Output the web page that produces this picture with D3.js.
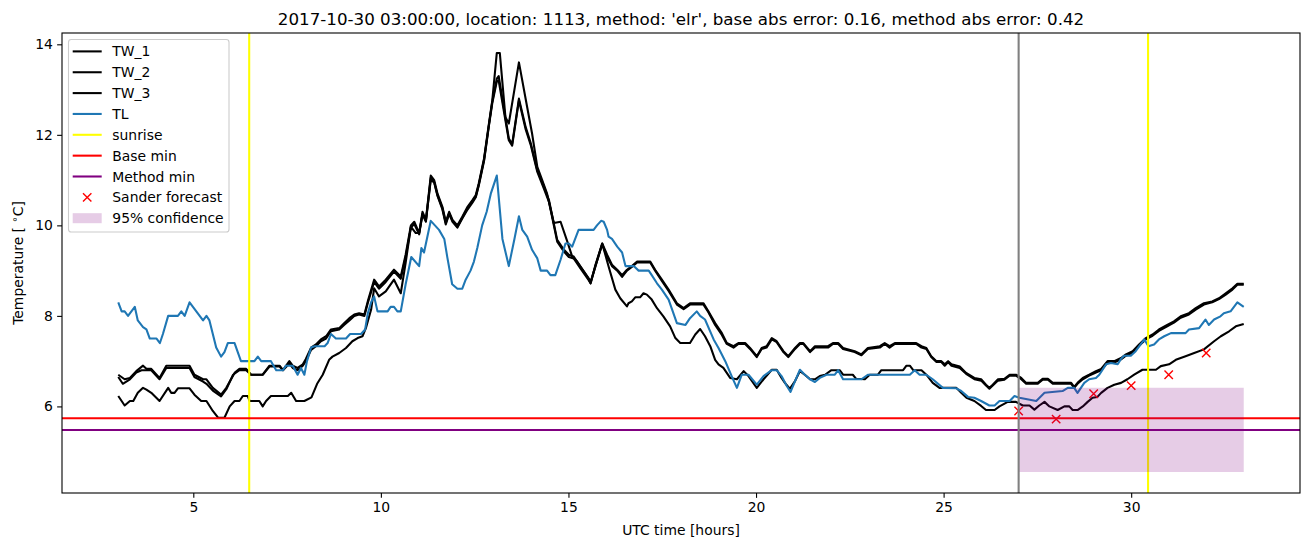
<!DOCTYPE html>
<html><head><meta charset="utf-8">
<script src="https://cdn.jsdelivr.net/npm/d3@7"></script>
<style>
body{margin:0;background:#fff;}
text{font-family:"DejaVu Sans",sans-serif;}
</style></head>
<body><svg id="c" width="1310" height="547"></svg>
<script>
const TITLE = "2017-10-30 03:00:00, location: 1113, method: 'elr', base abs error: 0.16, method abs error: 0.42";
const xTicks = [5,10,15,20,25,30];
const yTicks = [6,8,10,12,14];

const TW_1 = [[3.0,6.7],[3.17,6.6],[3.31,6.63],[3.48,6.78],[3.66,6.9],[3.75,6.83],[3.88,6.83],[4.1,6.63],[4.28,6.9],[4.9,6.9],[5.03,6.7],[5.26,6.6],[5.35,6.6],[5.52,6.41],[5.74,6.26],[5.88,6.41],[6.1,6.74],[6.23,6.83],[6.41,6.83],[6.54,6.7],[6.85,6.7],[7.03,6.9],[7.3,6.9],[7.39,6.8],[7.56,7.0],[7.65,6.9],[7.78,6.85],[7.92,6.93],[8.0,7.05],[8.14,7.3],[8.27,7.37],[8.4,7.48],[8.54,7.55],[8.67,7.7],[8.89,7.73],[9.02,7.84],[9.16,7.95],[9.29,8.03],[9.42,8.06],[9.56,8.03],[9.65,8.32],[9.82,8.8],[9.95,8.65],[10.13,8.8],[10.35,9.02],[10.53,8.87],[10.66,9.35],[10.8,10.0],[10.89,10.08],[11.02,9.83],[11.11,10.3],[11.2,10.12],[11.33,11.1],[11.42,11.0],[11.51,10.7],[11.64,10.41],[11.73,10.08],[11.82,10.3],[11.91,10.12],[12.04,10.0],[12.17,10.19],[12.31,10.41],[12.44,10.56],[12.53,10.67],[12.61,10.93],[12.75,11.48],[12.88,12.25],[12.97,12.76],[13.09,13.81],[13.17,13.81],[13.32,12.39],[13.41,12.25],[13.68,13.6],[13.9,12.61],[14.03,12.03],[14.17,11.29],[14.3,11.0],[14.43,10.7],[14.61,10.05],[14.79,10.08],[14.97,9.64],[15.1,9.31],[15.23,9.2],[15.5,8.87],[15.59,8.72],[15.72,9.13],[15.9,9.6],[16.03,9.35],[16.16,9.13],[16.3,9.02],[16.43,8.9],[16.56,9.02],[16.69,9.1],[16.83,9.2],[17.18,9.2],[17.31,9.02],[17.49,8.8],[17.67,8.58],[17.89,8.28],[18.07,8.17],[18.24,8.28],[18.6,8.28],[18.73,8.1],[18.91,7.84],[19.09,7.62],[19.22,7.4],[19.4,7.33],[19.53,7.4],[19.71,7.4],[19.84,7.29],[20.02,7.11],[20.15,7.29],[20.28,7.33],[20.42,7.51],[20.55,7.44],[20.73,7.22],[20.86,7.11],[21.04,7.29],[21.17,7.4],[21.26,7.4],[21.44,7.22],[21.57,7.33],[21.92,7.33],[22.05,7.4],[22.19,7.4],[22.32,7.29],[22.63,7.22],[22.81,7.15],[22.98,7.29],[23.3,7.33],[23.43,7.4],[23.56,7.33],[23.7,7.4],[24.27,7.4],[24.41,7.33],[24.54,7.29],[24.67,7.11],[24.81,7.0],[24.94,7.0],[25.03,6.93],[25.12,7.0],[25.21,6.93],[25.43,6.88],[25.6,6.74],[25.82,6.63],[26.0,6.6],[26.13,6.48],[26.22,6.41],[26.31,6.48],[26.45,6.6],[26.62,6.61],[26.76,6.7],[26.93,6.7],[27.07,6.63],[27.2,6.52],[27.51,6.52],[27.64,6.61],[27.78,6.61],[27.91,6.52],[28.4,6.52],[28.48,6.43],[28.57,6.52],[28.71,6.63],[28.88,6.7],[29.06,6.78],[29.2,6.83],[29.37,7.0],[29.55,7.0],[29.73,7.07],[29.86,7.15],[30.04,7.22],[30.21,7.37],[30.39,7.51],[30.57,7.59],[30.74,7.7],[30.96,7.8],[31.14,7.88],[31.32,7.99],[31.54,8.06],[31.72,8.17],[31.94,8.28],[32.16,8.32],[32.34,8.39],[32.52,8.5],[32.7,8.61],[32.83,8.71],[33.0,8.71]];

const TW_2 = [[3.0,6.65],[3.12,6.5],[3.31,6.6],[3.48,6.75],[3.62,6.8],[3.75,6.8],[3.88,6.8],[4.1,6.6],[4.28,6.85],[4.9,6.85],[5.03,6.65],[5.26,6.55],[5.35,6.5],[5.52,6.35],[5.74,6.22],[5.88,6.38],[6.06,6.7],[6.23,6.8],[6.41,6.8],[6.54,6.7],[6.85,6.7],[7.03,6.88],[7.3,6.88],[7.39,6.8],[7.56,6.95],[7.65,6.85],[7.78,6.8],[7.92,6.9],[8.0,7.0],[8.14,7.25],[8.27,7.33],[8.4,7.44],[8.54,7.5],[8.67,7.66],[8.89,7.7],[9.02,7.8],[9.16,7.9],[9.29,8.0],[9.42,8.03],[9.56,8.0],[9.65,8.28],[9.82,8.75],[9.95,8.6],[10.13,8.75],[10.35,8.98],[10.53,8.82],[10.66,9.3],[10.8,9.95],[10.89,10.03],[11.02,9.8],[11.11,10.25],[11.2,10.08],[11.33,11.05],[11.42,10.96],[11.51,10.66],[11.64,10.38],[11.73,10.05],[11.82,10.27],[11.91,10.1],[12.04,9.97],[12.17,10.17],[12.31,10.38],[12.44,10.53],[12.53,10.64],[12.61,10.9],[12.75,11.45],[12.88,12.22],[12.97,12.74],[13.09,13.24],[13.14,13.3],[13.41,11.92],[13.5,11.8],[13.68,12.8],[13.86,12.17],[14.0,11.8],[14.17,11.22],[14.35,10.85],[14.48,10.56],[14.7,9.68],[14.88,9.46],[15.01,9.35],[15.14,9.31],[15.32,9.09],[15.54,8.83],[15.59,8.75],[15.72,9.1],[15.9,9.58],[16.03,9.3],[16.16,9.1],[16.3,9.0],[16.43,8.86],[16.56,9.0],[16.69,9.08],[16.83,9.18],[17.18,9.18],[17.31,9.0],[17.49,8.77],[17.67,8.55],[17.89,8.25],[18.07,8.15],[18.24,8.25],[18.6,8.25],[18.73,8.08],[18.91,7.8],[19.09,7.58],[19.22,7.38],[19.4,7.3],[19.53,7.38],[19.71,7.38],[19.84,7.27],[20.02,7.09],[20.15,7.27],[20.28,7.3],[20.42,7.48],[20.55,7.42],[20.73,7.2],[20.86,7.09],[21.04,7.27],[21.17,7.38],[21.26,7.38],[21.44,7.2],[21.57,7.3],[21.92,7.3],[22.05,7.38],[22.19,7.38],[22.32,7.27],[22.63,7.2],[22.81,7.13],[22.98,7.27],[23.3,7.3],[23.43,7.38],[23.56,7.3],[23.7,7.38],[24.27,7.38],[24.41,7.3],[24.54,7.27],[24.67,7.09],[24.81,6.98],[24.94,6.98],[25.03,6.9],[25.12,6.98],[25.21,6.9],[25.43,6.85],[25.6,6.72],[25.82,6.6],[26.0,6.57],[26.13,6.46],[26.22,6.39],[26.31,6.46],[26.45,6.57],[26.62,6.59],[26.76,6.68],[26.93,6.68],[27.07,6.6],[27.2,6.5],[27.51,6.5],[27.64,6.59],[27.78,6.59],[27.91,6.5],[28.4,6.5],[28.48,6.41],[28.57,6.5],[28.71,6.6],[28.88,6.68],[29.06,6.75],[29.2,6.8],[29.37,6.97],[29.55,6.97],[29.73,7.04],[29.86,7.12],[30.04,7.19],[30.21,7.34],[30.39,7.48],[30.57,7.56],[30.74,7.67],[30.96,7.77],[31.14,7.85],[31.32,7.96],[31.54,8.03],[31.72,8.14],[31.94,8.25],[32.16,8.3],[32.34,8.37],[32.52,8.47],[32.7,8.58],[32.83,8.69],[33.0,8.69]];

const TW_3 = [[3.0,6.23],[3.17,6.02],[3.31,6.12],[3.4,6.12],[3.52,6.3],[3.66,6.41],[3.75,6.37],[3.88,6.3],[4.1,6.12],[4.33,6.41],[4.41,6.3],[4.5,6.3],[4.59,6.4],[4.9,6.4],[5.03,6.26],[5.21,6.12],[5.35,6.12],[5.52,5.9],[5.66,5.75],[5.83,5.75],[5.97,6.0],[6.1,6.12],[6.23,6.12],[6.32,6.23],[6.45,6.23],[6.5,6.12],[6.76,6.12],[6.85,6.0],[6.94,6.12],[7.07,6.23],[7.52,6.23],[7.61,6.3],[7.74,6.12],[7.96,6.12],[8.15,6.2],[8.3,6.5],[8.45,6.7],[8.62,7.03],[8.71,7.1],[8.89,7.18],[9.07,7.29],[9.24,7.44],[9.38,7.51],[9.51,7.55],[9.6,7.73],[9.74,8.14],[9.82,8.61],[9.95,8.43],[10.13,8.54],[10.35,8.8],[10.53,8.5],[10.66,9.17],[10.8,9.97],[10.93,9.83],[11.02,9.83],[11.11,10.25],[11.2,10.1],[11.33,11.0],[11.42,10.95],[11.51,10.65],[11.64,10.35],[11.73,10.02],[11.82,10.25],[11.91,10.08],[12.04,9.95],[12.17,10.15],[12.31,10.35],[12.44,10.5],[12.53,10.62],[12.61,10.88],[12.75,11.42],[12.88,12.2],[12.97,12.7],[13.09,13.18],[13.14,13.2],[13.41,11.88],[13.5,11.76],[13.68,12.76],[13.86,12.12],[14.0,11.76],[14.17,11.18],[14.35,10.8],[14.48,10.52],[14.7,9.64],[14.88,9.42],[15.01,9.3],[15.14,9.27],[15.32,9.05],[15.54,8.79],[15.59,8.72],[15.72,9.1],[15.9,9.6],[16.07,9.09],[16.25,8.58],[16.38,8.39],[16.56,8.21],[16.6,8.28],[16.69,8.32],[16.78,8.41],[16.91,8.41],[17.0,8.5],[17.09,8.47],[17.22,8.36],[17.36,8.17],[17.53,7.99],[17.71,7.77],[17.85,7.51],[17.98,7.4],[18.24,7.4],[18.38,7.59],[18.51,7.71],[18.64,7.55],[18.78,7.33],[18.91,7.03],[19.0,6.93],[19.13,6.85],[19.31,6.63],[19.49,6.6],[19.67,6.78],[19.8,6.67],[20.02,6.41],[20.2,6.6],[20.42,6.81],[20.55,6.81],[20.68,6.63],[20.77,6.52],[20.9,6.39],[21.04,6.56],[21.17,6.78],[21.3,6.7],[21.44,6.6],[21.57,6.6],[21.7,6.67],[21.84,6.7],[22.01,6.8],[22.23,6.8],[22.32,6.7],[22.58,6.7],[22.67,6.61],[22.9,6.6],[23.03,6.7],[23.25,6.7],[23.34,6.8],[23.92,6.8],[24.01,6.9],[24.1,6.9],[24.19,6.8],[24.41,6.8],[24.54,6.7],[24.71,6.52],[24.89,6.41],[25.34,6.41],[25.47,6.3],[25.61,6.19],[25.82,6.12],[26.0,6.01],[26.13,5.92],[26.36,5.92],[26.49,6.0],[26.71,6.1],[26.93,6.1],[27.11,6.02],[27.29,6.02],[27.42,5.93],[27.55,6.02],[27.69,6.1],[27.82,6.0],[28.04,5.92],[28.22,6.0],[28.35,6.0],[28.44,5.92],[28.57,5.92],[28.71,6.0],[28.84,6.1],[28.97,6.19],[29.1,6.21],[29.2,6.3],[29.37,6.41],[29.55,6.48],[29.73,6.52],[29.9,6.6],[30.08,6.7],[30.3,6.81],[30.66,6.81],[30.79,6.89],[31.01,6.93],[31.19,7.03],[31.45,7.11],[31.68,7.18],[31.94,7.26],[32.21,7.44],[32.39,7.55],[32.61,7.66],[32.79,7.77],[33.0,7.82]];

const TL = [[3.0,8.3],[3.09,8.1],[3.17,8.1],[3.26,8.0],[3.44,8.2],[3.52,7.9],[3.66,7.75],[3.75,7.7],[3.84,7.5],[4.02,7.5],[4.11,7.4],[4.19,7.6],[4.33,8.0],[4.59,8.0],[4.68,8.1],[4.77,8.0],[4.9,8.3],[5.26,7.9],[5.35,8.0],[5.43,7.9],[5.61,7.3],[5.74,7.1],[5.83,7.2],[5.92,7.4],[6.1,7.4],[6.27,7.0],[6.63,7.0],[6.72,7.1],[6.81,7.0],[7.07,7.0],[7.21,6.8],[7.39,6.8],[7.47,6.9],[7.65,6.9],[7.78,6.7],[7.87,6.85],[7.96,6.7],[8.03,7.0],[8.14,7.3],[8.23,7.33],[8.5,7.33],[8.58,7.4],[8.67,7.6],[8.8,7.5],[9.07,7.5],[9.18,7.6],[9.47,7.6],[9.58,7.7],[9.65,8.05],[9.74,8.3],[9.82,8.43],[9.91,8.1],[10.18,8.1],[10.26,8.2],[10.35,8.2],[10.44,8.1],[10.53,8.1],[10.66,8.7],[10.81,9.3],[11.02,9.1],[11.08,9.5],[11.15,9.4],[11.33,10.1],[11.55,9.9],[11.69,9.7],[11.77,9.3],[11.9,8.7],[12.04,8.6],[12.17,8.6],[12.26,8.8],[12.39,9.0],[12.48,9.2],[12.57,9.5],[12.7,10.0],[12.82,10.3],[12.93,10.7],[13.09,11.1],[13.24,9.7],[13.41,9.1],[13.56,9.7],[13.68,10.2],[13.77,9.9],[13.9,9.75],[14.03,9.46],[14.17,9.27],[14.26,9.0],[14.43,9.0],[14.52,8.9],[14.65,8.9],[14.79,9.24],[14.92,9.6],[15.01,9.6],[15.1,9.53],[15.27,9.9],[15.67,9.9],[15.76,10.0],[15.87,10.1],[15.94,10.08],[16.03,9.9],[16.07,9.75],[16.16,9.7],[16.3,9.53],[16.43,9.4],[16.52,9.1],[16.74,9.1],[16.87,9.0],[17.14,9.0],[17.22,8.9],[17.36,8.72],[17.49,8.58],[17.67,8.36],[17.89,7.84],[18.12,7.8],[18.24,7.95],[18.42,8.1],[18.51,8.0],[18.64,7.92],[18.87,7.48],[19.0,7.29],[19.18,7.0],[19.35,6.67],[19.49,6.41],[19.62,6.7],[19.8,6.7],[20.02,6.48],[20.2,6.67],[20.42,6.8],[20.55,6.8],[20.68,6.67],[20.82,6.45],[20.92,6.32],[21.04,6.56],[21.17,6.81],[21.3,6.7],[21.44,6.6],[21.57,6.54],[21.7,6.63],[21.88,6.7],[22.1,6.7],[22.19,6.8],[22.32,6.6],[22.81,6.6],[22.98,6.7],[24.1,6.7],[24.23,6.8],[24.36,6.7],[24.54,6.7],[24.71,6.6],[24.98,6.41],[25.34,6.4],[25.47,6.34],[25.65,6.21],[25.82,6.19],[26.0,6.12],[26.22,6.02],[26.36,6.02],[26.49,6.12],[26.76,6.12],[26.89,6.23],[27.02,6.19],[27.47,6.12],[27.69,6.3],[28.17,6.34],[28.31,6.41],[28.48,6.41],[28.57,6.3],[28.75,6.52],[28.88,6.6],[29.06,6.63],[29.15,6.7],[29.33,6.93],[29.46,6.96],[29.64,6.93],[29.73,7.05],[29.81,7.12],[29.99,7.12],[30.12,7.22],[30.35,7.48],[30.46,7.33],[30.61,7.37],[30.74,7.48],[30.88,7.55],[31.06,7.62],[31.45,7.62],[31.54,7.7],[31.81,7.73],[31.98,7.92],[32.07,7.8],[32.21,7.92],[32.38,7.99],[32.47,8.06],[32.65,8.1],[32.83,8.3],[33.0,8.2]];

const sunrise = [6.49, 30.45];
const forecastTime = 27;
const baseMin = 5.74;
const methodMin = 5.48;
const sanderHours = [27, 28, 29, 30, 31, 32];
const sanderValues = [5.9, 5.72, 6.28, 6.46, 6.7, 7.18];
const confHours = [27, 33];
const confLow = [4.55, 4.55];
const confHigh = [6.41, 6.41];

const legendLabels = ["TW_1","TW_2","TW_3","TL","sunrise","Base min","Method min","Sander forecast","95% confidence"];

const W = 1310, H = 547;
const L = 62, R = 1300, T = 33, B = 493;
const svg = d3.select("#c");
const x = d3.scaleLinear().domain([1.5, 34.5]).range([L, R]);
const y = d3.scaleLinear().domain([4.087, 14.25]).range([B, T]);

svg.append("defs").append("clipPath").attr("id","clip")
  .append("rect").attr("x",L).attr("y",T).attr("width",R-L).attr("height",B-T);
const g = svg.append("g").attr("clip-path","url(#clip)");

const line = d3.line().x(d=>x(d[0])).y(d=>y(d[1]));
const LW = 2.08;
const series = [[TW_1,"#000"],[TW_2,"#000"],[TW_3,"#000"],[TL,"#1f77b4"]];
series.forEach(([d,c])=>{
  g.append("path").attr("d",line(d)).attr("fill","none").attr("stroke",c)
    .attr("stroke-width",LW).attr("stroke-linejoin","round");
});
sunrise.forEach(s=>{
  g.append("line").attr("x1",x(s)).attr("x2",x(s)).attr("y1",T).attr("y2",B)
    .attr("stroke","#ffff00").attr("stroke-width",LW);
});
g.append("line").attr("x1",L).attr("x2",R).attr("y1",y(baseMin)).attr("y2",y(baseMin))
  .attr("stroke","#ff0000").attr("stroke-width",LW);
g.append("line").attr("x1",L).attr("x2",R).attr("y1",y(methodMin)).attr("y2",y(methodMin))
  .attr("stroke","#800080").attr("stroke-width",LW);
// markers
sanderHours.forEach((h,i)=>{
  const cx = x(h), cy = y(sanderValues[i]), r = 4.2;
  g.append("path").attr("d",`M${cx-r},${cy-r}L${cx+r},${cy+r}M${cx-r},${cy+r}L${cx+r},${cy-r}`)
    .attr("stroke","#ff0000").attr("stroke-width",1.4).attr("fill","none");
});
const band = confHours.map((h,i)=>({h, lo:confLow[i], hi:confHigh[i]}));
g.append("path").attr("d", d3.area().x(d=>x(d.h)).y0(d=>y(d.lo)).y1(d=>y(d.hi))(band))
  .attr("fill","#800080").attr("fill-opacity",0.2);
g.append("line").attr("x1",x(forecastTime)).attr("x2",x(forecastTime)).attr("y1",T).attr("y2",B)
  .attr("stroke","#808080").attr("stroke-width",LW);

// axes
const fs = 13.9;
const xAxis = svg.append("g").attr("transform",`translate(0,${B})`)
  .call(d3.axisBottom(x).tickValues(xTicks).tickSize(4.86).tickPadding(4.2).tickFormat(d3.format("d")));
const yAxis = svg.append("g").attr("transform",`translate(${L},0)`)
  .call(d3.axisLeft(y).tickValues(yTicks).tickSize(4.86).tickPadding(4.2).tickFormat(d3.format("d")));
[xAxis,yAxis].forEach(a=>{
  a.select(".domain").remove();
  a.selectAll("line").attr("stroke","#000").attr("stroke-width",1.1);
  a.selectAll("text").attr("font-size",fs).attr("font-family","DejaVu Sans").attr("fill","#000");
});
svg.append("rect").attr("x",L).attr("y",T).attr("width",R-L).attr("height",B-T)
  .attr("fill","none").attr("stroke","#000").attr("stroke-width",1.1);

svg.append("text").attr("x",(L+R)/2).attr("y",24.5).attr("text-anchor","middle")
  .attr("font-size",16.7).text(TITLE);
svg.append("text").attr("x",(L+R)/2).attr("y",535).attr("text-anchor","middle")
  .attr("font-size",fs).text("UTC time [hours]");
const yl = svg.append("text").attr("transform",`translate(23,${(T+B)/2}) rotate(-90)`)
  .attr("text-anchor","middle").attr("font-size",fs);
yl.append("tspan").text("Temperature [ ");
yl.append("tspan").attr("font-size",10).attr("dy",-5).text("∘");
yl.append("tspan").attr("dy",5).text("C]");

// legend
const lg = svg.append("g");
lg.append("rect").attr("x",68.5).attr("y",39.5).attr("width",160.5).attr("height",192.5)
  .attr("rx",2.8).attr("fill","#fff").attr("fill-opacity",0.8).attr("stroke","#cccccc").attr("stroke-width",1.1);
const rowY = i => 51.4 + i*20.85;
const handleColors = ["#000","#000","#000","#1f77b4","#ffff00","#ff0000","#800080"];
legendLabels.forEach((lab,i)=>{
  const yy = rowY(i);
  if(i<7){
    lg.append("line").attr("x1",72.7).attr("x2",101.7).attr("y1",yy).attr("y2",yy)
      .attr("stroke",handleColors[i]).attr("stroke-width",LW);
  } else if(i===7){
    const cx=87.2, r=4.2;
    lg.append("path").attr("d",`M${cx-r},${yy-r}L${cx+r},${yy+r}M${cx-r},${yy+r}L${cx+r},${yy-r}`)
      .attr("stroke","#ff0000").attr("stroke-width",1.4);
  } else {
    lg.append("rect").attr("x",72.7).attr("y",yy-5).attr("width",29).attr("height",10)
      .attr("fill","#800080").attr("fill-opacity",0.2);
  }
  lg.append("text").attr("x",112.3).attr("y",yy).attr("dy","0.36em").attr("font-size",fs).text(lab);
});
</script></body></html>
